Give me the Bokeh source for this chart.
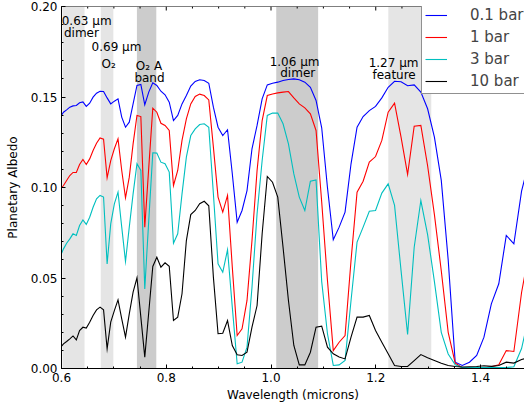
from bokeh.plotting import figure
from bokeh.models import (Range1d, FixedTicker, NumeralTickFormatter, Span,
                          Legend, LegendItem, ColumnDataSource)
from bokeh.core.properties import value
from bokeh.embed import file_html
from bokeh.resources import INLINE

# Wavelength grid (microns)
wavelength = [
    0.5978, 0.6038, 0.6098, 0.6159, 0.6220, 0.6283, 0.6345, 0.6409, 0.6473, 0.6538,
    0.6603, 0.6669, 0.6736, 0.6803, 0.6871, 0.6940, 0.7009, 0.7079, 0.7150, 0.7222,
    0.7294, 0.7367, 0.7441, 0.7515, 0.7590, 0.7666, 0.7743, 0.7820, 0.7898, 0.7977,
    0.8057, 0.8138, 0.8219, 0.8301, 0.8384, 0.8468, 0.8553, 0.8638, 0.8725, 0.8812,
    0.8900, 0.8989, 0.9079, 0.9170, 0.9261, 0.9354, 0.9447, 0.9542, 0.9637, 0.9734,
    0.9831, 0.9929, 1.0029, 1.0129, 1.0230, 1.0333, 1.0436, 1.0540, 1.0646, 1.0752,
    1.0860, 1.0968, 1.1078, 1.1189, 1.1301, 1.1414, 1.1528, 1.1643, 1.1759, 1.1877,
    1.1996, 1.2116, 1.2237, 1.2359, 1.2483, 1.2608, 1.2734, 1.2861, 1.2990, 1.3120,
    1.3251, 1.3383, 1.3517, 1.3652, 1.3789, 1.3927, 1.4066, 1.4207, 1.4349, 1.4492,
    1.4637, 1.4784, 1.4931,
]

albedo_0p1bar = [
    0.1390, 0.1416, 0.1429, 0.1444, 0.1451, 0.1453, 0.1468, 0.1473, 0.1448, 0.1466,
    0.1499, 0.1521, 0.1532, 0.1530, 0.1495, 0.1462, 0.1477, 0.1490, 0.1389, 0.1333,
    0.1361, 0.1462, 0.1564, 0.1569, 0.1457, 0.1527, 0.1578, 0.1564, 0.1532, 0.1512,
    0.1471, 0.1370, 0.1398, 0.1462, 0.1508, 0.1560, 0.1586, 0.1595, 0.1591, 0.1576,
    0.1444, 0.1333, 0.1287, 0.1319, 0.1076, 0.0808, 0.0873, 0.0983, 0.1214, 0.1343,
    0.1490, 0.1567, 0.1576, 0.1582, 0.1591, 0.1597, 0.1600, 0.1595, 0.1582, 0.1554,
    0.1481, 0.1330, 0.1000, 0.0711, 0.0781, 0.0864, 0.1131, 0.1333, 0.1392, 0.1425,
    0.1448, 0.1495, 0.1554, 0.1587, 0.1584, 0.1562, 0.1567, 0.1527, 0.1435, 0.1278,
    0.1039, 0.0600, 0.0035, 0.0017, 0.0035, 0.0072, 0.0173, 0.0357, 0.0468, 0.0735,
    0.0689, 0.0980, 0.1150,
]

albedo_1bar = [
    0.0990, 0.1011, 0.1039, 0.1066, 0.1083, 0.1083, 0.1127, 0.1155, 0.1127, 0.1158,
    0.1204, 0.1245, 0.1274, 0.1267, 0.1053, 0.1149, 0.1214, 0.1269, 0.1094, 0.0943,
    0.1057, 0.1241, 0.1398, 0.1392, 0.0781, 0.1110, 0.1438, 0.1416, 0.1355, 0.1343,
    0.1315, 0.1011, 0.1094, 0.1260, 0.1379, 0.1462, 0.1503, 0.1516, 0.1508, 0.1484,
    0.1223, 0.0947, 0.0864, 0.0956, 0.0560, 0.0182, 0.0219, 0.0376, 0.0707, 0.1094,
    0.1370, 0.1508, 0.1517, 0.1523, 0.1527, 0.1530, 0.1495, 0.1462, 0.1440, 0.1407,
    0.1315, 0.0920, 0.0486, 0.0099, 0.0145, 0.0182, 0.0597, 0.0974, 0.1035, 0.1140,
    0.1171, 0.1260, 0.1416, 0.1466, 0.1278, 0.1072, 0.1339, 0.1343, 0.1120, 0.0850,
    0.0540, 0.0200, 0.0030, 0.0005, 0.0003, 0.0003, 0.0005, 0.0010, 0.0020, 0.0099,
    0.0094, 0.0420, 0.0650,
]

albedo_3bar = [
    0.0620, 0.0661, 0.0692, 0.0716, 0.0744, 0.0735, 0.0790, 0.0821, 0.0796, 0.0836,
    0.0891, 0.0937, 0.0956, 0.0947, 0.0578, 0.0799, 0.0910, 0.0974, 0.0781, 0.0591,
    0.0781, 0.0965, 0.1131, 0.1094, 0.0440, 0.0818, 0.1192, 0.1190, 0.1140, 0.1131,
    0.1085, 0.0692, 0.0744, 0.0965, 0.1168, 0.1287, 0.1324, 0.1348, 0.1352, 0.1333,
    0.0965, 0.0578, 0.0532, 0.0656, 0.0339, 0.0026, 0.0035, 0.0118, 0.0449, 0.0855,
    0.1149, 0.1398, 0.1411, 0.1411, 0.1352, 0.1241, 0.1075, 0.0947, 0.0873, 0.1035,
    0.1042, 0.0480, 0.0192, 0.0017, 0.0020, 0.0044, 0.0376, 0.0698, 0.0781, 0.0869,
    0.0873, 0.0969, 0.1020, 0.0901, 0.0541, 0.0188, 0.0670, 0.0928, 0.0740, 0.0480,
    0.0200, 0.0080, 0.0020, 0.0005, 0.0005, 0.0005, 0.0005, 0.0005, 0.0005, 0.0005,
    0.0010, 0.0110, 0.0300,
]

albedo_10bar = [
    0.0115, 0.0136, 0.0149, 0.0164, 0.0180, 0.0158, 0.0210, 0.0228, 0.0223, 0.0256,
    0.0293, 0.0324, 0.0339, 0.0324, 0.0109, 0.0256, 0.0320, 0.0379, 0.0274, 0.0173,
    0.0302, 0.0422, 0.0501, 0.0284, 0.0063, 0.0311, 0.0564, 0.0615, 0.0560, 0.0584,
    0.0565, 0.0265, 0.0284, 0.0413, 0.0707, 0.0850, 0.0873, 0.0910, 0.0924, 0.0899,
    0.0505, 0.0192, 0.0195, 0.0265, 0.0127, 0.0076, 0.0072, 0.0090, 0.0228, 0.0348,
    0.0744, 0.1061, 0.1029, 0.0947, 0.0670, 0.0376, 0.0127, 0.0020, 0.0020, 0.0090,
    0.0228, 0.0234, 0.0118, 0.0081, 0.0063, 0.0053, 0.0173, 0.0284, 0.0284, 0.0293,
    0.0210, 0.0145, 0.0081, 0.0017, 0.0011, 0.0011, 0.0044, 0.0077, 0.0059, 0.0044,
    0.0029, 0.0017, 0.0011, 0.0008, 0.0010, 0.0011, 0.0015, 0.0012, 0.0017, 0.0035,
    0.0030, 0.0050, 0.0060,
]

series_labels = ["0.1 bar", "1 bar", "3 bar", "10 bar"]
series_colors = ["#0000ff", "#ff0000", "#00bfbf", "#000000"]

# Shaded absorption features
band_left = [0.602, 0.675, 0.744, 1.010, 1.224]
band_right = [0.644, 0.699, 0.781, 1.090, 1.306]
band_colors = ["#e5e5e5", "#e5e5e5", "#cccccc", "#cccccc", "#e5e5e5"]

# Feature annotation lines
ann_text = ["0.63 \u03bcm", "dimer", "0.69 \u03bcm", "O\u2082", "O\u2082 A", "band",
            "1.06 \u03bcm", "dimer", "1.27 \u03bcm", "feature"]
ann_x = [0.648, 0.638, 0.705, 0.690, 0.767, 0.768, 1.045, 1.051, 1.234, 1.235]
ann_y = [0.1919, 0.1855, 0.1776, 0.1683, 0.1674, 0.1604, 0.1696, 0.1634, 0.1687, 0.1624]

x_ticks = [0.6, 0.8, 1.0, 1.2, 1.4]
x_minor = [0.65, 0.7, 0.75, 0.85, 0.9, 0.95, 1.05, 1.1, 1.15, 1.25, 1.3, 1.35, 1.45]
y_ticks = [0.0, 0.05, 0.10, 0.15, 0.20]
y_minor = [round(0.01 * i, 2) for i in range(0, 21)]

FONT = "DejaVu Sans"
Y_MIN, Y_MAX = 0.0, 0.2
PX = (Y_MAX - Y_MIN) / 362.0  # data units per vertical screen pixel

p = figure(width=524, height=406, output_backend="svg", toolbar_location=None,
           x_range=Range1d(0.6, 1.484), y_range=Range1d(Y_MIN, Y_MAX),
           min_border_left=61, min_border_right=0, min_border_top=6,
           min_border_bottom=38)
p.outline_line_color = None
p.grid.visible = False
p.background_fill_color = "white"
p.border_fill_color = "white"

# bands
band_src = ColumnDataSource(dict(left=band_left, right=band_right, color=band_colors))
p.quad(left="left", right="right", bottom=Y_MIN, top=Y_MAX, color="color",
       line_color=None, source=band_src)

renderers = []
for ys, col in zip([albedo_0p1bar, albedo_1bar, albedo_3bar, albedo_10bar], series_colors):
    r = p.line(wavelength, ys, line_color=col, line_width=1.1, line_join="miter")
    renderers.append(r)

p.text(x=ann_x, y=ann_y, text=ann_text, text_align="center", text_baseline="alphabetic",
       text_font=value(FONT), text_font_size="12px", text_color="#000000")

# top spine with inward ticks
p.add_layout(Span(location=Y_MAX, dimension="width", line_color="black", line_width=1))
p.segment(x0=x_ticks, y0=[Y_MAX] * len(x_ticks), x1=x_ticks,
          y1=[Y_MAX - 4 * PX] * len(x_ticks), line_color="black", line_width=1)
p.segment(x0=x_minor, y0=[Y_MAX] * len(x_minor), x1=x_minor,
          y1=[Y_MAX - 2 * PX] * len(x_minor), line_color="black", line_width=1)

def style_axis(ax, ticks, minor, fmt):
    ax.ticker = FixedTicker(ticks=ticks, minor_ticks=minor)
    ax.formatter = NumeralTickFormatter(format=fmt)
    ax.major_tick_in = 4
    ax.major_tick_out = 0
    ax.minor_tick_in = 2
    ax.minor_tick_out = 0
    ax.axis_line_color = "black"
    ax.major_tick_line_color = "black"
    ax.minor_tick_line_color = "black"
    ax.major_label_text_font = FONT
    ax.major_label_text_font_size = "12px"
    ax.major_label_text_color = "black"
    ax.axis_label_text_font = FONT
    ax.axis_label_text_font_size = "12px"
    ax.axis_label_text_font_style = "normal"
    ax.axis_label_text_color = "black"

xa = p.xaxis[0]
style_axis(xa, x_ticks, x_minor, "0.0")
xa.axis_label = "Wavelength (microns)"
xa.major_label_standoff = 4
xa.axis_label_standoff = 3

ya = p.yaxis[0]
style_axis(ya, y_ticks, y_minor, "0.00")
ya.axis_label = "Planetary Albedo"
ya.major_label_standoff = 4
ya.axis_label_standoff = 8

legend = Legend(items=[LegendItem(label=l, renderers=[r]) for l, r in zip(series_labels, renderers)],
                location=(360, 274))
legend.label_text_font = FONT
legend.label_text_font_size = "15px"
legend.glyph_width = 22
legend.glyph_height = 18
legend.label_height = 18
legend.label_width = 70
legend.label_standoff = 23
legend.padding = 3
legend.spacing = 4
legend.margin = 0
legend.border_line_color = "#222222"
legend.border_line_width = 1.5
legend.background_fill_color = "white"
legend.background_fill_alpha = 1.0
p.add_layout(legend)

open("out.html", "w").write(file_html(p, INLINE))
